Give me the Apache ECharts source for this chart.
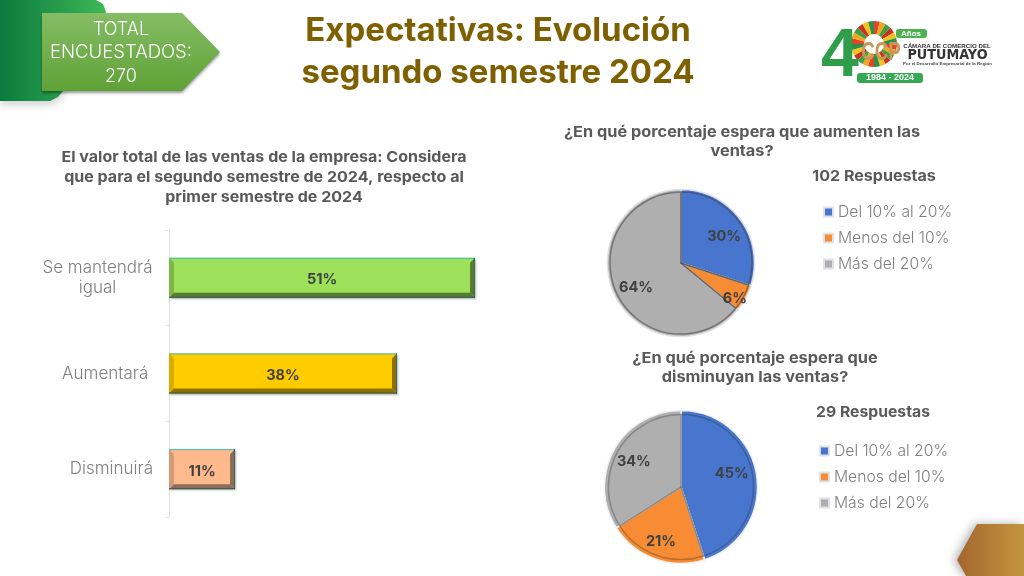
<!DOCTYPE html>
<html><head><meta charset="utf-8">
<style>html,body{margin:0;padding:0;background:#fff}#c{width:1024px;height:576px}</style>
<script src="https://cdn.jsdelivr.net/npm/echarts@6/dist/echarts.min.js"></script>
</head><body><div id="c"></div>
<script>
const barCategories = ['Se mantendrá\nigual', 'Aumentará ', 'Disminuirá'];
const barValues = [51, 38, 11];
const pieCategories = ['Del 10% al 20%', 'Menos del 10%', 'Más del 20%'];
const increaseValues = [30, 6, 64];
const decreaseValues = [45, 21, 34];

const FONT = 'Inter, "Open Sans", sans-serif';
const barFill = ['#9DE05A', '#FFCC00', '#FFB98D'];
const bevelSide = ['#7FB548', '#DDAB00', '#D39A78'];
const bevelDark = ['#5A7A30', '#8C7000', '#8C6E58'];
const pieColors = ['#4876CE', '#F78C34', '#AFAFAF'];
const labelNudge1 = [[11,-3],[19,16],[-9,8]];
const labelNudge2 = [[10,-7],[-6,16],[-11,-5]];

const chart = echarts.init(document.getElementById('c'), null, {renderer:'canvas'});

function pieSeries(values, center, r, nudge, rim, rimColor, edge) {
  const data = values.map((v,i)=>({name:pieCategories[i], value:v, itemStyle:{color:pieColors[i]}}));
  return [{
    type:'pie', center, radius:[0,r], startAngle:90, clockwise:true, animation:false, silent:true,
    data,
    itemStyle:{borderColor:edge, borderWidth:1.5},
    labelLine:{show:false},
    label:{show:true, position:'inside', formatter:'{c}%', fontFamily:FONT, fontWeight:'bold', fontSize:14.5, color:'#404040'},
    labelLayout:p=>({dx:nudge[p.dataIndex][0], dy:nudge[p.dataIndex][1]}),
    z:3
  },{
    type:'pie', center, radius:[0,r-rim], startAngle:90, clockwise:true, animation:false, silent:true,
    data:data.map(d=>({name:d.name, value:d.value, itemStyle:{color:'rgba(0,0,0,0)'}})),
    itemStyle:{borderColor:rimColor, borderWidth:1.5},
    label:{show:false}, labelLine:{show:false}, z:4, legendHoverLink:false
  }];
}
const legendBase = {orient:'vertical', itemWidth:9, itemHeight:9, itemGap:9, icon:'rect', selectedMode:false,
  data:pieCategories,
  textStyle:{fontFamily:FONT, fontSize:15.7, color:'#7F7F7F', fontWeight:300}};

function txt(x,y,text,size,color,weight,extra,sx){
  return {type:'text', x, y, scaleX:sx||1, silent:true, z:10, style:Object.assign({text, fontFamily:FONT, fontSize:size, fill:color, fontWeight:weight||'normal', align:'center', verticalAlign:'middle'}, extra||{})};
}
const rays = [];
const rayCols = ['#E2452A','#F2A51E','#3E9F45','#C9331F','#F6C21C','#2F8F4A'];
for (let i=0;i<24;i++){
  const a=i/24*Math.PI*2;
  rays.push({type:'sector', silent:true, z:6, shape:{cx:874,cy:44,r:23,r0:9,startAngle:a,endAngle:a+Math.PI/12}, style:{fill:rayCols[i%6]}});
}
const LOGO = {fontFamily:'"Liberation Sans"'};

chart.setOption({
  animation:false,
  backgroundColor:'#fff',
  grid:{left:169, top:230, width:360, height:287, containLabel:false},
  xAxis:{type:'value', min:0, max:60, show:false},
  yAxis:{type:'category', inverse:true, data:barCategories,
    axisLine:{lineStyle:{color:'#DDDDDD', width:1}},
    axisTick:{show:true, length:4, lineStyle:{color:'#E4E4E4'}},
    axisLabel:{color:'#7F7F7F', fontFamily:FONT, fontSize:17, fontWeight:300, margin:16,
      formatter:v=>v.split('\n').map(s=>v.includes('\n')?'{c|'+s+'}':s).join('\n'),
      rich:{c:{width:111, align:'center', fontFamily:FONT, fontSize:17, fontWeight:300, color:'#7F7F7F', lineHeight:20}}}},
  legend:[
    Object.assign({}, legendBase, {left:818, top:199, itemGap:10}),
    Object.assign({}, legendBase, {left:814, top:438, itemGap:10})
  ],
  series:[
    {type:'bar', barWidth:40, silent:true, z:2,
     data:barValues.map((v,i)=>({value:v, itemStyle:{color:barFill[i], shadowColor:'rgba(0,0,0,.3)', shadowBlur:2, shadowOffsetY:1, shadowOffsetX:1}})),
     label:{show:true, position:'inside', offset:[0,2], formatter:'{c}%', fontFamily:FONT, fontWeight:'bold', fontSize:14.5, color:'#404040'}},
    {type:'custom', silent:true, z:3, coordinateSystem:'cartesian2d', data:barValues.map((v,i)=>[v,i]),
     renderItem:(params,api)=>{
       const i=params.dataIndex, end=api.coord([api.value(0),api.value(1)]), start=api.coord([0,api.value(1)]);
       const x0=start[0], x1=end[0], t=end[1]-20, b=end[1]+20, d=5;
       const poly=(points,fill)=>({type:'polygon',shape:{points},style:{fill}});
       return {type:'group',children:[
         poly([[x0,t],[x0+d,t+d],[x0+d,b-d],[x0,b]],bevelSide[i]),
         poly([[x0,b],[x0+d,b-d],[x1-d,b-d],[x1,b]],bevelDark[i]),
         poly([[x1,t],[x1,b],[x1-d,b-d],[x1-d,t+d]],bevelDark[i]),
         {type:'line',shape:{x1:x0,y1:t+.5,x2:x1,y2:t+.5},style:{stroke:'#3DBFA8',lineWidth:1}},
         {type:'line',shape:{x1:x1-.5,y1:t,x2:x1-.5,y2:b},style:{stroke:'#2D6B5E',lineWidth:1}},
         {type:'line',shape:{x1:x0,y1:b-.5,x2:x1,y2:b-.5},style:{stroke:'#2D5F58',lineWidth:1}}
       ]};
     }},
    ...pieSeries(increaseValues,[681,263],73.5,labelNudge1,2.5,'rgba(60,60,60,.5)','#DFE1E6'),
    ...pieSeries(decreaseValues,[681,487],76.5,labelNudge2,4,'rgba(40,40,40,.3)','#F0F1F3')
  ],
  graphic:{elements:[
    {type:'polygon', silent:true, z:1, shape:{points:[[0,0],[96,0],[103,4],[106,12],[64,90],[58,97],[50,101],[0,101]]},
     style:{fill:new echarts.graphic.LinearGradient(0,0,1,0,[{offset:0,color:'#0B7A3E'},{offset:1,color:'#3DB856'}]), shadowColor:'rgba(0,0,0,.18)', shadowBlur:8, shadowOffsetY:4}},
    {type:'polygon', silent:true, z:2, shape:{points:[[42,13],[182,13],[220,52],[182,91],[42,91]]},
     style:{fill:new echarts.graphic.LinearGradient(0,0,0,1,[{offset:0,color:'#85BC65'},{offset:1,color:'#5FA236'}]), shadowColor:'rgba(0,0,0,.4)', shadowBlur:3, shadowOffsetY:2}},
    txt(121,30,'TOTAL',18,'#fff',300),
    txt(121,53,'ENCUESTADOS:',18,'#fff',300,null,1.03),
    txt(121,77,'270',18,'#fff',300),
    txt(498,31,'Expectativas: Evolución',33,'#7F6000','bold'),
    txt(498,73,'segundo semestre 2024',33,'#7F6000','bold'),
    txt(264,157,'El valor total de las ventas de la empresa: Considera',15,'#595959','bold',null,1.068),
    txt(264,177,'que para el segundo semestre de 2024, respecto al',15,'#595959','bold',null,1.068),
    txt(264,197,'primer semestre de 2024',15,'#595959','bold',null,1.068),
    txt(742,132,'¿En qué porcentaje espera que aumenten las',15,'#595959','bold',null,1.087),
    txt(742,151,'ventas?',15,'#595959','bold',null,1.087),
    txt(874,176,'102 Respuestas',15,'#595959','bold',null,1.07),
    txt(755,358,'¿En qué porcentaje espera que',15,'#595959','bold',null,1.087),
    txt(755,377,'disminuyan las ventas?',15,'#595959','bold',null,1.087),
    txt(873,412,'29 Respuestas',15,'#595959','bold',null,1.05),
    {type:'polygon', silent:true, z:2, shape:{points:[[977,524],[1024,524],[1024,576],[966,576],[957,560]]},
     style:{fill:new echarts.graphic.LinearGradient(0,0,1,0,[{offset:0,color:'#A3652F'},{offset:1,color:'#C4963F'}]), shadowColor:'rgba(0,0,0,.3)', shadowBlur:10, shadowOffsetX:-3}},
    ...rays,
    {type:'circle', silent:true, z:7, shape:{cx:874,cy:44,r:10}, style:{fill:'#fff'}},
    txt(840,57,'4',68,'#2E9E4A','bold',LOGO),
    txt(881,53,'CCP',26,'#C39A5C','bold',LOGO,0.72),
    {type:'rect', silent:true, z:6, shape:{x:896,y:29,width:31,height:9,r:3}, style:{fill:'#4CAF50'}},
    txt(911,33.5,'Años',8,'#fff','bold',LOGO),
    {type:'rect', silent:true, z:8, shape:{x:857,y:73,width:66,height:10,r:3}, style:{fill:'#35A853'}},
    txt(890,78,'1984 - 2024',9,'#fff','bold',LOGO),
    txt(947,46,'CÁMARA DE COMERCIO DEL',6.2,'#333','bold',LOGO),
    txt(947.5,55,'PUTUMAYO',13.5,'#333','bold',{fontFamily:'"DejaVu Sans"'},0.95),
    txt(947.5,63.5,'Por el Desarrollo Empresarial de la Región',4.4,'#444','bold',LOGO)
  ]}
});
</script></body></html>
